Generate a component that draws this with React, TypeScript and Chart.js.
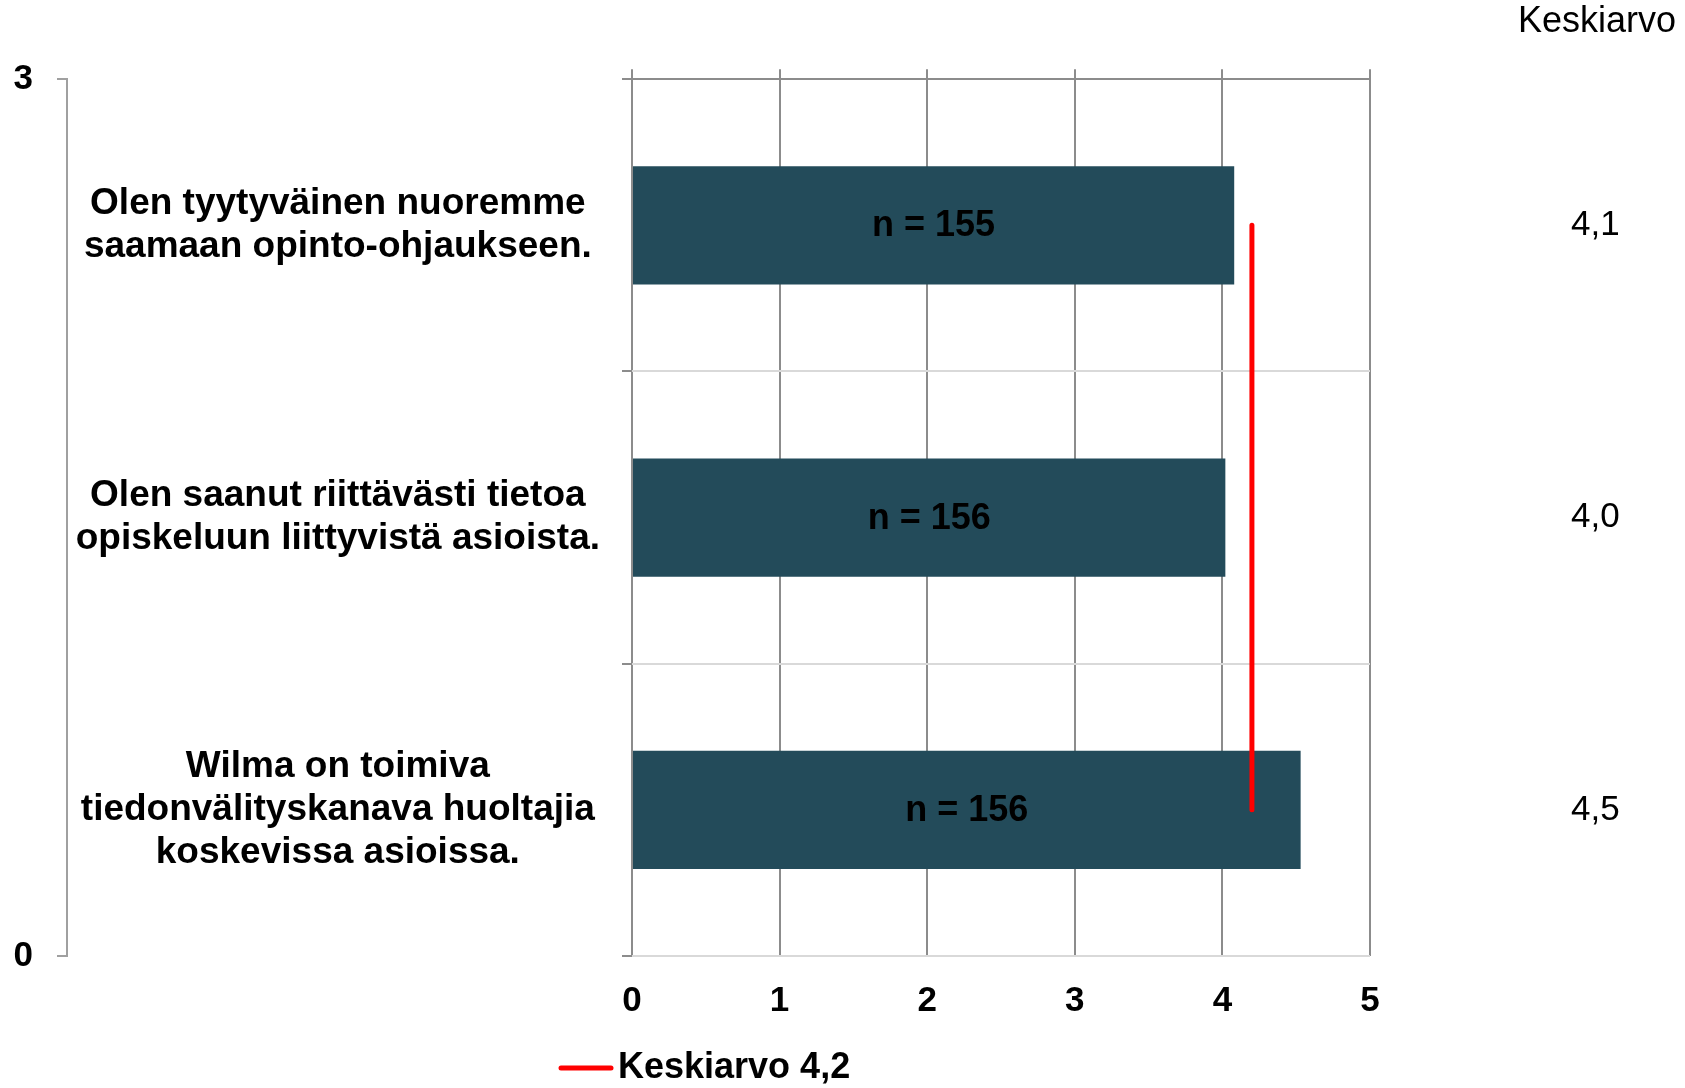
import React, { useEffect, useRef } from "react";
import { Chart, registerables } from "chart.js";

Chart.register(...registerables);

const categories: string[][] = [
  ["Olen tyytyväinen nuoremme", "saamaan opinto-ohjaukseen."],
  ["Olen saanut riittävästi tietoa", "opiskeluun liittyvistä asioista."],
  ["Wilma on toimiva", "tiedonvälityskanava huoltajia", "koskevissa asioissa."],
];
const barValues: number[] = [4.08, 4.02, 4.53];
const nLabels: string[] = ["n = 155", "n = 156", "n = 156"];
const meanLabels: string[] = ["4,1", "4,0", "4,5"];
const meanLine: number[] = [4.2, 4.2, 4.2];
const meanLegend = "Keskiarvo 4,2";
const rightTitle = "Keskiarvo";

const FONT = "'Liberation Sans', Arial, Helvetica, sans-serif";
const GRID_DARK = "#8c8c8c";
const GRID_LIGHT = "#d9d9d9";
const BAR_COLOR = "#234b5a";

const barLabelPlugin = {
  id: "barLabels",
  afterDatasetsDraw(chart: any) {
    const ctx = chart.ctx;
    chart.data.datasets.forEach((ds: any, di: number) => {
      if (!ds.innerLabels) return;
      const meta = chart.getDatasetMeta(di);
      meta.data.forEach((el: any, i: number) => {
        ctx.save();
        ctx.font = `bold 36px ${FONT}`;
        ctx.fillStyle = "#000";
        ctx.textAlign = "center";
        ctx.textBaseline = "middle";
        ctx.fillText(ds.innerLabels[i], (el.x + el.base) / 2, el.y + 1);
        ctx.restore();
      });
    });
  },
};

const customLegendPlugin = {
  id: "customLegend",
  afterDraw(chart: any) {
    const ctx = chart.ctx;
    const ds = chart.data.datasets.find((d: any) => d.type === "line");
    if (!ds) return;
    const y = 1068;
    ctx.save();
    ctx.strokeStyle = ds.borderColor;
    ctx.lineWidth = 5;
    ctx.lineCap = "round";
    ctx.beginPath();
    ctx.moveTo(561, y);
    ctx.lineTo(611, y);
    ctx.stroke();
    ctx.font = `bold 36px ${FONT}`;
    ctx.fillStyle = "#000";
    ctx.textAlign = "left";
    ctx.textBaseline = "middle";
    ctx.fillText(ds.label, 618, y);
    ctx.restore();
  },
};

function fixWidth(w: number) {
  return (scale: any) => {
    scale.width = w;
    scale.paddingTop = 0;
    scale.paddingBottom = 0;
  };
}

export default function App() {
  const canvasRef = useRef<HTMLCanvasElement | null>(null);

  useEffect(() => {
    if (!canvasRef.current) return;
    const chart = new Chart(canvasRef.current, {
      type: "bar",
      data: {
        labels: categories,
        datasets: [
          {
            type: "line",
            label: meanLegend,
            data: meanLine,
            indexAxis: "y",
            xAxisID: "x",
            yAxisID: "y",
            borderColor: "#ff0000",
            borderWidth: 5,
            borderCapStyle: "round",
            pointRadius: 0,
            fill: false,
            order: 0,
          } as any,
          {
            type: "bar",
            label: "Keskiarvo",
            data: barValues,
            xAxisID: "x",
            yAxisID: "y",
            backgroundColor: BAR_COLOR,
            borderWidth: 0,
            barPercentage: 0.405,
            categoryPercentage: 1,
            innerLabels: nLabels,
            order: 1,
          } as any,
        ],
      },
      options: {
        indexAxis: "y",
        responsive: false,
        animation: false,
        layout: { padding: { left: 0, right: 9, top: 0, bottom: 42 } },
        plugins: {
          legend: { display: false },
          tooltip: { enabled: false },
          title: {
            display: true,
            text: rightTitle,
            align: "end",
            color: "#000",
            font: { family: FONT, size: 36, weight: "normal", lineHeight: 1.2 },
            padding: { top: 0, bottom: 26 },
          },
        },
        scales: {
          x: {
            type: "linear",
            position: "bottom",
            min: 0,
            max: 5,
            offset: false,
            ticks: {
              stepSize: 1,
              padding: 24,
              color: "#000",
              font: { family: FONT, size: 35, weight: "bold", lineHeight: 1.2 },
            },
            grid: { color: GRID_DARK, lineWidth: 2, drawTicks: false, offset: false },
            border: { display: false },
          },
          x2: {
            type: "linear",
            position: "top",
            min: 0,
            max: 5,
            offset: false,
            z: 1,
            ticks: { stepSize: 1, display: false },
            grid: { drawOnChartArea: false, drawTicks: true, tickLength: 10, color: GRID_DARK, lineWidth: 2, offset: false },
            border: { display: true, color: GRID_DARK, width: 2 },
          },
          y0: {
            type: "linear",
            position: "left",
            weight: 2,
            min: 0,
            max: 3,
            offset: false,
            ticks: {
              stepSize: 3,
              padding: 24,
              color: "#000",
              font: { family: FONT, size: 35, weight: "bold" },
            },
            grid: { drawOnChartArea: false, drawTicks: true, tickLength: 10, color: "#a0a0a0", lineWidth: 2, offset: false },
            border: { display: true, color: "#a0a0a0", width: 2 },
            afterFit: fixWidth(67),
          },
          y: {
            type: "category",
            position: "left",
            weight: 1,
            offset: true,
            ticks: {
              padding: 22,
              crossAlign: "center",
              color: "#000",
              font: { family: FONT, size: 37, weight: "bold", lineHeight: 1.17 },
            },
            grid: {
              offset: true,
              color: GRID_LIGHT,
              lineWidth: 2,
              drawTicks: true,
              tickLength: 10,
              tickColor: GRID_DARK,
            },
            border: { display: false },
            afterFit: fixWidth(565),
          },
          yR: {
            type: "category",
            position: "right",
            offset: true,
            labels: meanLabels,
            ticks: {
              padding: 201,
              crossAlign: "center",
              color: "#000",
              font: { family: FONT, size: 35, weight: "normal" },
            },
            grid: { display: false, drawTicks: false },
            border: { display: false },
            afterFit: fixWidth(306),
          },
        },
      } as any,
      plugins: [barLabelPlugin, customLegendPlugin],
    });
    return () => chart.destroy();
  }, []);

  return (
    <div style={{ position: "fixed", left: 0, top: 0, width: 1685, height: 1088, background: "#fff" }}>
      <canvas ref={canvasRef} width={1685} height={1088} style={{ display: "block" }} />
    </div>
  );
}
